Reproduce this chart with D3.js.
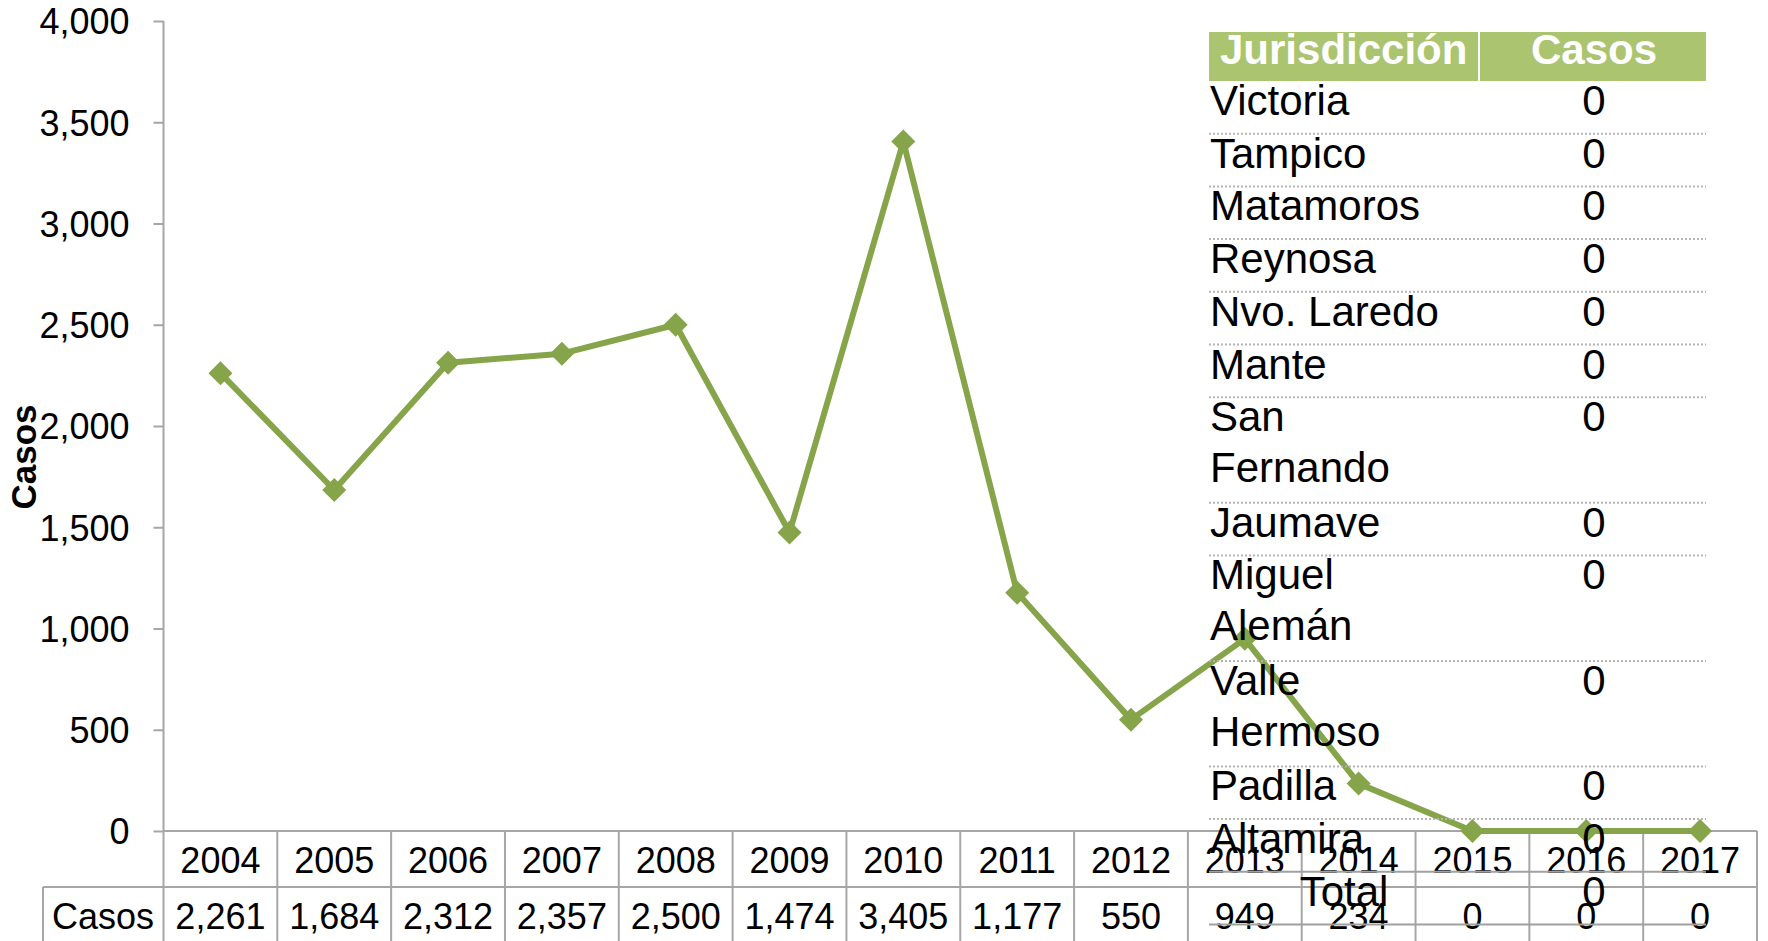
<!DOCTYPE html>
<html>
<head>
<meta charset="utf-8">
<script src="https://cdn.jsdelivr.net/npm/d3@7"></script>
<style>
    body { margin: 0; background: #fff; }
    svg { display: block; font-family: "Liberation Sans", Arial, sans-serif; }
</style>
</head>
<body>
<svg id="graph" width="1768" height="941"></svg>
<script>
    // chart data
    var years = ['2004', '2005', '2006', '2007', '2008', '2009', '2010', '2011', '2012', '2013', '2014', '2015', '2016', '2017'];
    var casos = [2261, 1684, 2312, 2357, 2500, 1474, 3405, 1177, 550, 949, 234, 0, 0, 0];
    var yTicks = [0, 500, 1000, 1500, 2000, 2500, 3000, 3500, 4000];

    // jurisdiction table
    var jurisdicciones = ['Victoria', 'Tampico', 'Matamoros', 'Reynosa', 'Nvo. Laredo', 'Mante', 'San|Fernando',
        'Jaumave', 'Miguel|Alemán', 'Valle|Hermoso', 'Padilla', 'Altamira', 'Total'];
    var jurCasos = [0, 0, 0, 0, 0, 0, 0, 0, 0, 0, 0, 0, 0];

    (function () {
        'use strict';

        var green = '#86a449',
            axisGray = '#a6a6a6',
            plotLeft = 163.5,
            plotRight = 1757,
            plotTop = 21,
            plotBottom = 831;

        var svg = d3.select('#graph');

        var x = d3.scaleBand().domain(years).range([plotLeft, plotRight]),
            y = d3.scaleLinear().domain([0, 4000]).range([plotBottom, plotTop]);

        var fmt = d3.format(',');
        var cx = function (yr) { return x(yr) + x.bandwidth() / 2; };

        // y axis
        var yAxis = svg.append('g')
            .attr('transform', 'translate(' + plotLeft + ',0)')
            .call(d3.axisLeft(y).tickValues(yTicks).tickSize(10).tickPadding(24).tickFormat(fmt));
        yAxis.select('.domain').attr('stroke', axisGray).attr('stroke-width', 2)
            .attr('d', 'M0,' + plotTop + 'V' + plotBottom);
        yAxis.selectAll('.tick line').attr('stroke', axisGray).attr('stroke-width', 2);
        yAxis.selectAll('.tick text')
            .attr('font-size', 36)
            .attr('font-family', '"Liberation Sans", Arial, sans-serif')
            .attr('fill', '#000')
            .attr('dy', '0.36em');

        // y axis title
        svg.append('text')
            .attr('transform', 'translate(36,457) rotate(-90)')
            .attr('text-anchor', 'middle')
            .attr('font-size', 35)
            .attr('font-weight', 'bold')
            .text('Casos');

        // data table under the axis
        var row1 = 887,
            row2 = 941;
        var table = svg.append('g').attr('stroke', axisGray).attr('stroke-width', 2);
        table.append('line').attr('x1', plotLeft).attr('x2', plotRight).attr('y1', plotBottom).attr('y2', plotBottom);
        table.append('line').attr('x1', 43).attr('x2', plotRight).attr('y1', row1).attr('y2', row1);
        table.append('line').attr('x1', 43).attr('x2', 43).attr('y1', row1).attr('y2', row2);
        table.selectAll('.vline')
            .data(years.concat(['end']))
            .enter().append('line')
            .attr('class', 'vline')
            .attr('x1', function (d) { return d === 'end' ? plotRight : x(d); })
            .attr('x2', function (d) { return d === 'end' ? plotRight : x(d); })
            .attr('y1', plotBottom)
            .attr('y2', row2);

        svg.selectAll('.year')
            .data(years)
            .enter().append('text')
            .attr('class', 'year')
            .attr('x', cx)
            .attr('y', 873)
            .attr('text-anchor', 'middle')
            .attr('font-size', 36)
            .text(function (d) { return d; });

        svg.append('text')
            .attr('x', 103)
            .attr('y', 929)
            .attr('text-anchor', 'middle')
            .attr('font-size', 36)
            .text('Casos');

        svg.selectAll('.val')
            .data(casos)
            .enter().append('text')
            .attr('class', 'val')
            .attr('x', function (d, i) { return cx(years[i]); })
            .attr('y', 929)
            .attr('text-anchor', 'middle')
            .attr('font-size', 36)
            .text(function (d) { return fmt(d); });

        // line + diamond markers
        var line = d3.line()
            .x(function (d, i) { return cx(years[i]); })
            .y(function (d) { return y(d); });

        svg.append('path')
            .attr('d', line(casos))
            .attr('fill', 'none')
            .attr('stroke', green)
            .attr('stroke-width', 6)
            .attr('stroke-linejoin', 'round');

        svg.selectAll('.marker')
            .data(casos)
            .enter().append('path')
            .attr('class', 'marker')
            .attr('d', 'M0,-12L12,0L0,12L-12,0Z')
            .attr('fill', green)
            .attr('transform', function (d, i) {
                return 'translate(' + cx(years[i]) + ',' + y(d) + ')';
            });

        // jurisdiction table overlay
        var tLeft = 1209,
            tRight = 1706,
            tDiv = 1479,
            tTop = 32,
            headBottom = 81,
            lineH = 52.7;

        var leg = svg.append('g');

        leg.append('rect')
            .attr('x', tLeft).attr('y', tTop)
            .attr('width', tRight - tLeft).attr('height', headBottom - tTop)
            .attr('fill', '#abc470');
        leg.append('line')
            .attr('x1', tDiv).attr('x2', tDiv).attr('y1', tTop).attr('y2', headBottom)
            .attr('stroke', '#fff').attr('stroke-width', 2);
        leg.append('text')
            .attr('x', 1220).attr('y', 64)
            .attr('font-size', 42).attr('font-weight', 'bold').attr('fill', '#fff')
            .text('Jurisdicción');
        leg.append('text')
            .attr('x', 1594).attr('y', 64)
            .attr('text-anchor', 'middle')
            .attr('font-size', 42).attr('font-weight', 'bold').attr('fill', '#fff')
            .text('Casos');

        var rowTop = headBottom;
        jurisdicciones.forEach(function (name, i) {
            var parts = name.split('|');
            var h = parts.length === 1 ? lineH : 105.5;
            var isTotal = name === 'Total';
            var tx = isTotal ? (tLeft + tDiv) / 2 : 1210;

            var t = leg.append('text')
                .attr('font-size', 42)
                .attr('x', tx)
                .attr('y', rowTop + 34)
                .attr('text-anchor', isTotal ? 'middle' : 'start');
            parts.forEach(function (p, j) {
                t.append('tspan')
                    .attr('x', tx)
                    .attr('dy', j === 0 ? 0 : 51)
                    .text(p);
            });

            leg.append('text')
                .attr('x', 1594)
                .attr('y', rowTop + 34)
                .attr('text-anchor', 'middle')
                .attr('font-size', 42)
                .text(jurCasos[i]);

            rowTop += h;
            var solid = i >= jurisdicciones.length - 2;
            leg.append('line')
                .attr('x1', tLeft).attr('x2', tRight)
                .attr('y1', rowTop).attr('y2', rowTop)
                .attr('stroke', solid ? '#a0a0a0' : '#b4b4b4')
                .attr('stroke-width', 2)
                .attr('stroke-dasharray', solid ? null : '2,2');
        });
    })();
</script>
</body>
</html>
